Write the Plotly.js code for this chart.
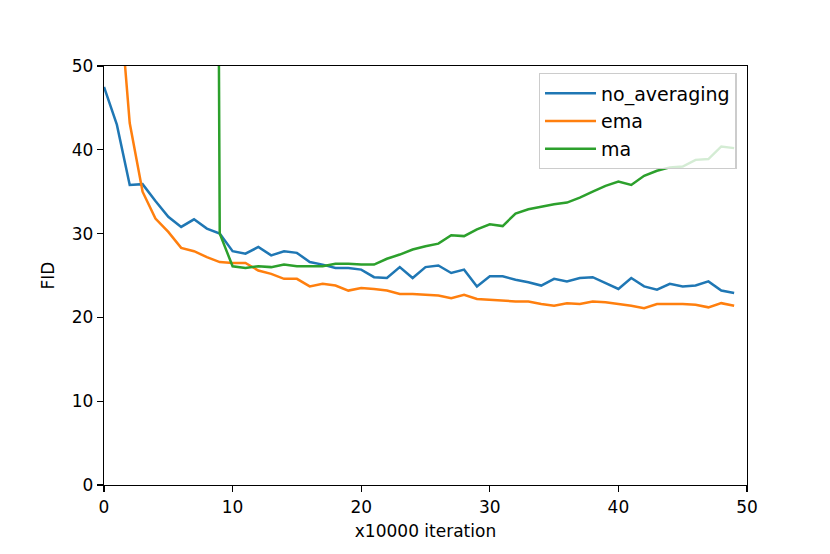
<!DOCTYPE html>
<html>
<head>
<meta charset="utf-8">
<script src="https://cdn.plot.ly/plotly-3.0.1.min.js"></script>
<style>
  html, body { margin: 0; padding: 0; background: #fff; }
  #chart { width: 830px; height: 554px; }
</style>
</head>
<body>
<div id="chart"></div>
<script>
// FID per checkpoint (x10000 iterations)
const iterations = Array.from({ length: 50 }, (_, i) => i);

const noAveraging = [
    47.5, 43.0, 35.8, 35.9, 33.9, 32.0, 30.8, 31.7, 30.6, 30.0,
    27.9, 27.6, 28.4, 27.4, 27.9, 27.7, 26.6, 26.3, 25.9, 25.9,
    25.7, 24.8, 24.7, 26.0, 24.7, 26.0, 26.2, 25.3, 25.7, 23.7,
    24.9, 24.9, 24.5, 24.2, 23.8, 24.6, 24.3, 24.7, 24.8, 24.1,
    23.4, 24.7, 23.7, 23.3, 24.0, 23.7, 23.8, 24.3, 23.2, 22.9
];

const ema = [
    95.0, 62.0, 43.2, 35.0, 31.8, 30.2, 28.3, 27.9, 27.2, 26.6,
    26.5, 26.5, 25.6, 25.2, 24.6, 24.6, 23.7, 24.0, 23.8, 23.2,
    23.5, 23.4, 23.2, 22.8, 22.8, 22.7, 22.6, 22.3, 22.7, 22.2,
    22.1, 22.0, 21.9, 21.9, 21.6, 21.4, 21.7, 21.6, 21.9, 21.8,
    21.6, 21.4, 21.1, 21.6, 21.6, 21.6, 21.5, 21.2, 21.7, 21.4
];

const ma = [
    null, null, null, null, null, null, null, null, 350.0, 30.0,
    26.1, 25.9, 26.1, 26.0, 26.3, 26.1, 26.1, 26.1, 26.4, 26.4,
    26.3, 26.3, 27.0, 27.5, 28.1, 28.5, 28.8, 29.8, 29.7, 30.5,
    31.1, 30.9, 32.4, 32.9, 33.2, 33.5, 33.7, 34.3, 35.0, 35.7,
    36.2, 35.8, 36.9, 37.5, 37.9, 38.0, 38.8, 38.9, 40.4, 40.2
];

const seriesNames = ['no_averaging', 'ema', 'ma'];
const seriesColors = ['#1f77b4', '#ff7f0e', '#2ca02c'];
const seriesValues = [noAveraging, ema, ma];

const data = seriesValues.map(function(values, i) {
    return {
        type: 'scatter',
        mode: 'lines',
        x: iterations,
        y: values,
        name: seriesNames[i],
        line: { color: seriesColors[i], width: 2.5 }
    };
});

const axisStyle = {
    showgrid: false,
    zeroline: false,
    showline: true,
    linecolor: '#000',
    linewidth: 1.3,
    mirror: true,
    ticks: 'outside',
    ticklen: 6,
    tickwidth: 1.3,
    tickcolor: '#000',
    tickfont: { size: 17, color: '#000' }
};

const layout = {
    width: 830,
    height: 554,
    margin: { t: 66, r: 83, b: 69, l: 104 },
    paper_bgcolor: '#fff',
    plot_bgcolor: '#fff',
    font: { family: 'DejaVu Sans, sans-serif', color: '#000', size: 17 },
    showlegend: true,
    legend: {
        x: 0.984,
        xanchor: 'right',
        y: 0.983,
        yanchor: 'top',
        bgcolor: 'rgba(255,255,255,0.8)',
        bordercolor: '#cccccc',
        borderwidth: 1.3,
        font: { size: 19 },
        itemwidth: 51,
        tracegroupgap: 0
    },
    xaxis: Object.assign({}, axisStyle, {
        range: [0, 50],
        tickvals: [0, 10, 20, 30, 40, 50],
        title: { text: 'x10000 iteration', font: { size: 17 }, standoff: 9 }
    }),
    yaxis: Object.assign({}, axisStyle, {
        range: [0, 50],
        tickvals: [0, 10, 20, 30, 40, 50],
        title: { text: 'FID', font: { size: 17 }, standoff: 12 }
    })
};

Plotly.newPlot('chart', data, layout, { displayModeBar: false, staticPlot: true });
</script>
</body>
</html>
